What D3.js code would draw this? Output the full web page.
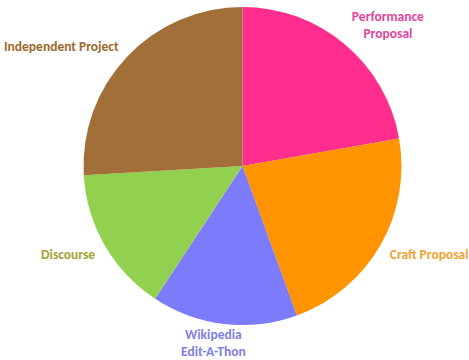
<!DOCTYPE html>
<html>
<head>
<meta charset="utf-8">
<script src="https://cdn.jsdelivr.net/npm/d3@7"></script>
<style>
  html, body { margin: 0; padding: 0; background: #fff; }
  svg { display: block; }
  text { font-family: Calibri, Carlito, Lato, "Open Sans", sans-serif; font-weight: 700; font-size: 13.5px; }
</style>
</head>
<body>
<svg id="chart" width="469" height="360"></svg>
<script>
// Course components and their weights
const categories = ["Performance Proposal", "Craft Proposal", "Wikipedia Edit-A-Thon", "Discourse", "Independent Project"];
const labelLines = [["Performance", "Proposal"], ["Craft Proposal"], ["Wikipedia", "Edit-A-Thon"], ["Discourse"], ["Independent Project"]];
const values = [6, 6, 4, 4, 7];
const fillColors = ["#FF2E8C", "#FF9400", "#7B7BFB", "#92D050", "#A36F38"];
const labelColors = ["#E2459D", "#F2A234", "#7F80E2", "#A2A431", "#9C6A2C"];

const width = 469, height = 360;
const cx = 242.5, cy = 166, radius = 159;
const labelRadiusX = 170, labelRadiusY = 162, lineHeight = 16.5;

const svg = d3.select("#chart");
const g = svg.append("g").attr("transform", `translate(${cx},${cy})`);

const data = categories.map((c, i) => ({ name: c, value: values[i], lines: labelLines[i], fill: fillColors[i], label: labelColors[i] }));

const pie = d3.pie().sort(null).value(d => d.value);
const arc = d3.arc().innerRadius(0).outerRadius(radius);
const arcs = pie(data);

g.selectAll("path.slice")
  .data(arcs)
  .join("path")
  .attr("class", "slice")
  .attr("d", arc)
  .attr("fill", d => d.data.fill);

// Labels sit just outside each slice, pushed away along the slice's mid angle
const clamp = v => Math.max(-1, Math.min(1, v));
arcs.forEach(a => {
  const mid = (a.startAngle + a.endAngle) / 2;
  const ux = Math.sin(mid), uy = -Math.cos(mid);
  const t = g.append("text")
    .attr("text-anchor", "middle")
    .attr("fill", a.data.label);
  a.data.lines.forEach((ln, i) => {
    t.append("tspan").attr("x", 0).attr("dy", i === 0 ? 0 : lineHeight).text(ln);
  });
  const bb = t.node().getBBox();
  const hw = bb.width / 2;
  const hh = (a.data.lines.length * lineHeight) / 2;
  const px = labelRadiusX * ux + hw * clamp(ux * 2.5);
  const py = labelRadiusY * uy + hh * clamp(uy * 2.5);
  // vertical centring of the text block around (px, py)
  const firstBaseline = py - hh + lineHeight / 2 + 4;
  t.attr("transform", `translate(${px},${firstBaseline})`);
});
</script>
</body>
</html>
